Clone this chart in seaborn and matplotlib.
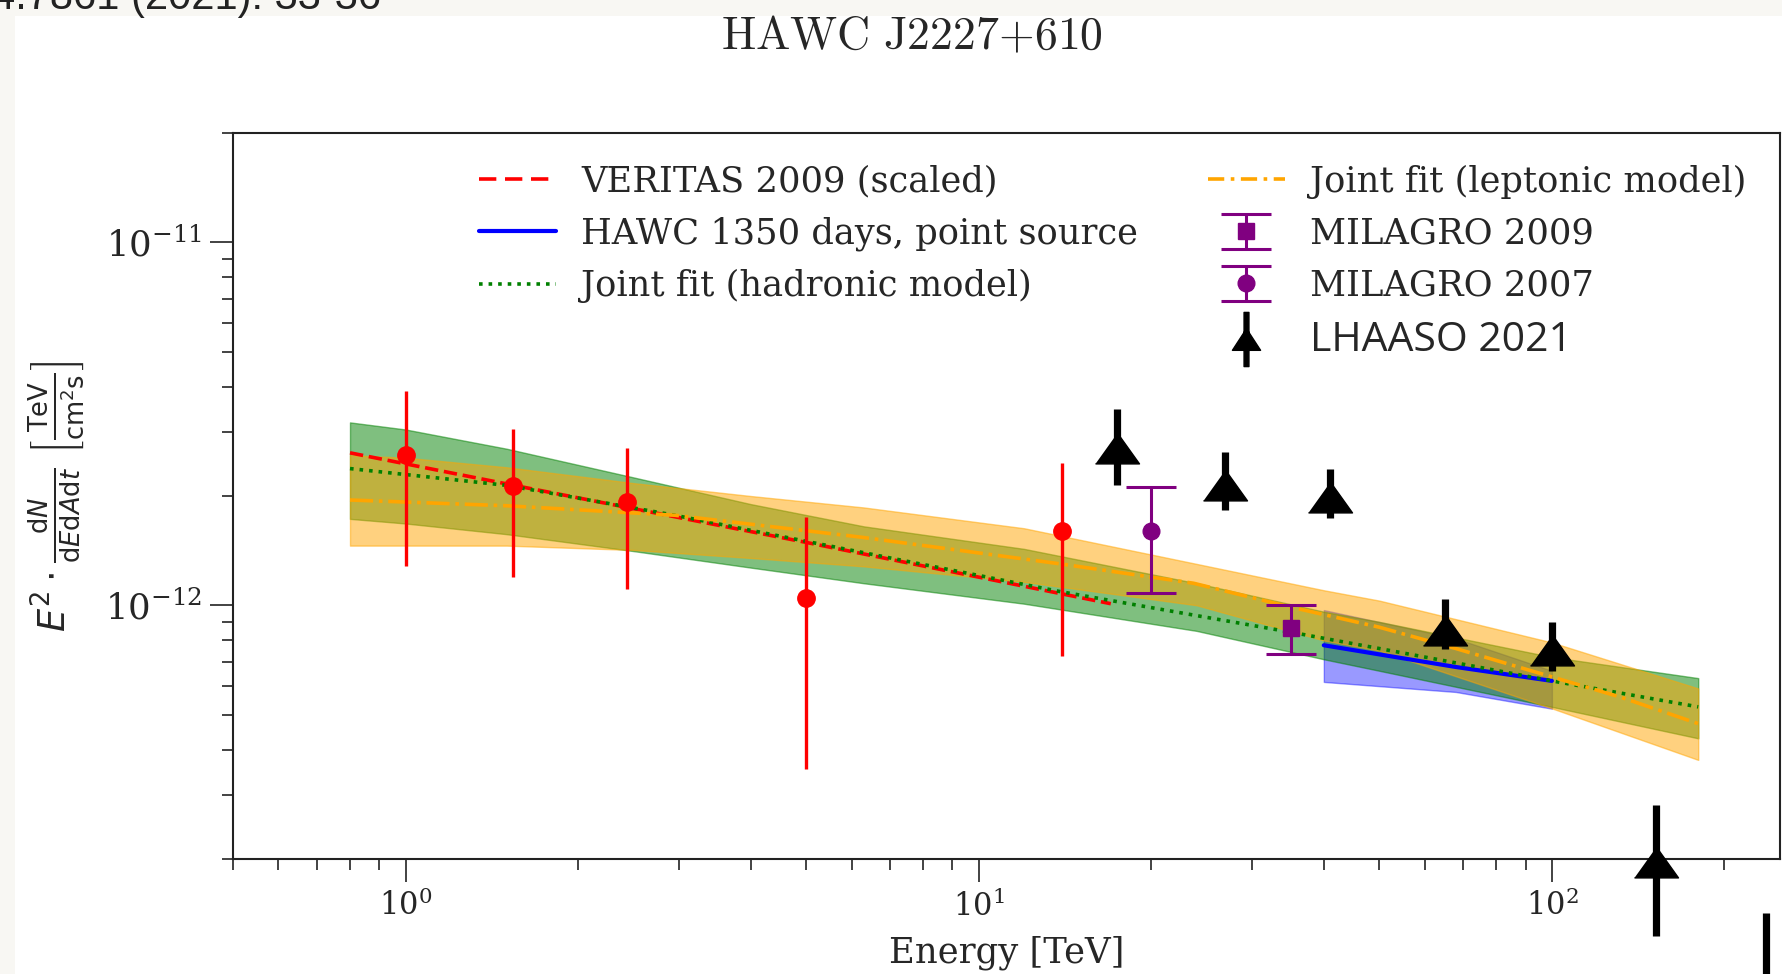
import numpy as np
import matplotlib
matplotlib.use("Agg")
import matplotlib.pyplot as plt
import seaborn as sns
from matplotlib.path import Path
from matplotlib.patches import Rectangle
from matplotlib.lines import Line2D
from matplotlib.legend_handler import HandlerErrorbar

# ---------------- data ----------------
veritas_E = [1.0, 1.54, 2.43, 5.0, 14.0]
veritas_F = [2.60e-12, 2.13e-12, 1.93e-12, 1.05e-12, 1.60e-12]
veritas_hi = [3.89e-12, 3.05e-12, 2.72e-12, 1.75e-12, 2.47e-12]
veritas_lo = [1.28e-12, 1.20e-12, 1.11e-12, 3.54e-13, 7.24e-13]

milagro07_E = [20.0]
milagro07_F = [1.60e-12]
milagro07_hi = [2.12e-12]
milagro07_lo = [1.08e-12]

milagro09_E = [35.0]
milagro09_F = [8.67e-13]
milagro09_hi = [1.00e-12]
milagro09_lo = [7.36e-13]

lhaaso_E = [17.4, 26.9, 41.0, 65.0, 100.0, 152.0, 236.0]
lhaaso_F = [2.72e-12, 2.15e-12, 1.99e-12, 8.57e-13, 7.52e-13, 1.96e-13, 7.5e-14]
lhaaso_hi = [3.47e-12, 2.65e-12, 2.38e-12, 1.04e-12, 9.0e-13, 2.81e-13, 1.42e-13]
lhaaso_lo = [2.14e-12, 1.83e-12, 1.74e-12, 7.6e-13, 6.6e-13, 1.23e-13, 3.5e-14]

veritas_line_E = [0.8, 1.5, 5.0, 17.0]
veritas_line_F = [2.63e-12, 2.16e-12, 1.49e-12, 1.01e-12]

hawc_E = [40.0, 68.0, 100.0]
hawc_F = [7.76e-13, 6.76e-13, 6.19e-13]
hawc_hi = [9.7e-13, 8.1e-13, 6.6e-13]
hawc_lo = [6.15e-13, 5.77e-13, 5.19e-13]

had_E = [0.8, 1.5, 2.95, 6.24, 13.9, 34.9, 50.0, 100.0, 180.0]
had_F = [2.38e-12, 2.14e-12, 1.77e-12, 1.40e-12, 1.09e-12, 8.44e-13, 7.6e-13, 6.19e-13, 5.25e-13]

lep_E = [0.8, 1.5, 2.95, 6.24, 13.9, 23.7, 34.9, 50.0, 68.0, 100.0, 132.0, 180.0]
lep_F = [1.95e-12, 1.88e-12, 1.77e-12, 1.54e-12, 1.30e-12, 1.15e-12, 9.9e-13, 8.7e-13,
         7.6e-13, 6.35e-13, 5.58e-13, 4.72e-13]

band_E = [0.8, 1.0, 1.5, 2.5, 4.0, 6.3, 12.0, 24.0, 40.0, 50.0, 100.0, 180.0]
had_band_hi = [3.19e-12, 3.05e-12, 2.70e-12, 2.25e-12, 1.90e-12, 1.65e-12, 1.43e-12,
               1.15e-12, 9.6e-13, 9.0e-13, 7.2e-13, 6.3e-13]
had_band_lo = [1.73e-12, 1.68e-12, 1.57e-12, 1.41e-12, 1.27e-12, 1.15e-12, 1.01e-12,
               8.5e-13, 7.1e-13, 6.6e-13, 5.25e-13, 4.3e-13]
lep_band_hi = [2.59e-12, 2.55e-12, 2.40e-12, 2.17e-12, 2.00e-12, 1.86e-12, 1.63e-12,
               1.30e-12, 1.10e-12, 1.03e-12, 7.9e-13, 5.9e-13]
lep_band_lo = [1.46e-12, 1.46e-12, 1.46e-12, 1.42e-12, 1.35e-12, 1.28e-12, 1.16e-12,
               1.00e-12, 8.0e-13, 7.5e-13, 5.2e-13, 3.75e-13]

labels_left = ["VERITAS 2009 (scaled)", "HAWC 1350 days, point source",
               "Joint fit (hadronic model)"]
labels_right = ["Joint fit (leptonic model)", "MILAGRO 2009", "MILAGRO 2007",
                "LHAASO 2021"]
title = r"$\mathrm{HAWC\ J2227{+}610}$"
citation = "4.7861 (2021): 33-36"

# ---------------- style ----------------
sns.set_theme(style="ticks")
plt.rcParams["font.family"] = ["DejaVu Serif"]
plt.rcParams["mathtext.fontset"] = "dejavuserif"

W, H, DPI = 1783, 974, 100
fig = plt.figure(figsize=(W / DPI, H / DPI), dpi=DPI)
fig.patch.set_facecolor("#f8f7f3")
fig.add_artist(Rectangle((15 / W, 0), 1, 1 - 16 / H, transform=fig.transFigure,
                         facecolor="white", edgecolor="none", zorder=-10))

ax = fig.add_axes([233 / W, 1 - 859 / H, (1780 - 233) / W, (859 - 133) / H])
ax.set_facecolor("white")
ax.set_xscale("log")
ax.set_yscale("log")

def err(v, lo, hi):
    v, lo, hi = map(np.asarray, (v, lo, hi))
    return np.vstack([v - lo, hi - v])

# bands
ax.fill_between(hawc_E, hawc_lo, hawc_hi, color="blue", alpha=0.4, zorder=1, lw=1)
ax.fill_between(band_E, had_band_lo, had_band_hi, color="green", alpha=0.5, zorder=1.1, lw=1)
ax.fill_between(band_E, lep_band_lo, lep_band_hi, color="orange", alpha=0.5, zorder=1.2, lw=1)

# model lines
sns.lineplot(x=veritas_line_E, y=veritas_line_F, ax=ax, color="red", lw=2.6,
             linestyle="--", dashes=(4.8, 2.4), zorder=3, sort=False)
sns.lineplot(x=hawc_E, y=hawc_F, ax=ax, color="blue", lw=3.0, zorder=3, sort=False)
sns.lineplot(x=had_E, y=had_F, ax=ax, color="green", lw=2.6, linestyle=":", zorder=3, sort=False)
sns.lineplot(x=lep_E, y=lep_F, ax=ax, color="orange", lw=2.6, linestyle="-.",
             dashes=(4.5, 1.8, 1, 1.8), zorder=3, sort=False)

# data points
ax.errorbar(veritas_E, veritas_F, yerr=err(veritas_F, veritas_lo, veritas_hi), fmt="o",
            color="red", ms=12.5, elinewidth=2.4, capsize=0, zorder=4)
mil09 = ax.errorbar(milagro09_E, milagro09_F, yerr=err(milagro09_F, milagro09_lo, milagro09_hi),
                    fmt="s", color="purple", ms=12, elinewidth=2.2, capsize=18, capthick=2.2, zorder=4)
mil07 = ax.errorbar(milagro07_E, milagro07_F, yerr=err(milagro07_F, milagro07_lo, milagro07_hi),
                    fmt="o", color="purple", ms=12, elinewidth=2.2, capsize=18, capthick=2.2, zorder=4)
tri = [(-1, -0.7), (1, -0.7), (0, 0.7)]
lh = ax.errorbar(lhaaso_E, lhaaso_F, yerr=err(lhaaso_F, lhaaso_lo, lhaaso_hi), fmt="none",
                 ecolor="black", elinewidth=5.2, capsize=0, zorder=5)
for a in lh.get_children():
    a.set_clip_on(False)
ax.plot(lhaaso_E, lhaaso_F, linestyle="none", marker=tri, ms=31.7, color="black",
        zorder=5.5, clip_on=False)

ax.set_xlim(0.5, 250)
ax.set_ylim(2e-13, 2e-11)

for s in ["top", "right", "left", "bottom"]:
    ax.spines[s].set_linewidth(1.5)
    ax.spines[s].set_color("#222222")
ax.tick_params(axis="both", which="major", length=16.5, width=1.2,
               color="#222222", pad=6)
ax.tick_params(axis="x", which="major", labelsize=22)
ax.tick_params(axis="y", which="major", labelsize=25.5)
ax.tick_params(axis="both", which="minor", length=8, width=1.2, color="#222222")
ax.tick_params(top=False, right=False, which="both")

ax.set_xlabel("Energy [TeV]", fontsize=25.5, labelpad=9)
ax.set_ylabel(r"$E^2 \cdot \frac{\mathrm{d}N}{\mathrm{d}E\mathrm{d}A\mathrm{d}t}\ "
              r"\left[\frac{\mathrm{TeV}}{\mathrm{cm}^2\mathrm{s}}\right]$",
              fontsize=26.5, math_fontfamily="dejavusans")
ax.yaxis.set_label_coords(-(233 - 86) / 1547, 0.5)

fig.text(912 / W, 1 - 37 / H, title, math_fontfamily="cm", fontsize=33,
         ha="center", va="center")
fig.text(-8 / W, 1 - 9 / H, citation, family=["Liberation Sans"], fontsize=30,
         ha="left", va="baseline", color="#222222")

# legends
LFS = 25.4
hl = [Line2D([], [], color="red", lw=2.6, linestyle="--", dashes=(4.8, 2.4)),
      Line2D([], [], color="blue", lw=3.0),
      Line2D([], [], color="green", lw=2.6, linestyle=":")]
leg1 = fig.legend(hl, labels_left, loc="upper left", bbox_to_anchor=(461 / W, 1 - 147 / H),
                  frameon=False, fontsize=LFS, borderpad=0, handlelength=2.2,
                  handletextpad=0.7, labelspacing=0.51)

verts = [(-0.52, -0.40), (0.52, -0.40), (0.0, 0.40), (-0.52, -0.40),
         (-0.09, -1.0), (0.09, -1.0), (0.09, 1.0), (-0.09, 1.0), (-0.09, -1.0)]
codes = [Path.MOVETO, Path.LINETO, Path.LINETO, Path.CLOSEPOLY,
         Path.MOVETO, Path.LINETO, Path.LINETO, Path.LINETO, Path.CLOSEPOLY]
lh_marker = Path(verts, codes)
lh_handle = Line2D([], [], linestyle="none", marker=lh_marker, ms=39, color="black")
hr = [Line2D([], [], color="orange", lw=2.6, linestyle="-.", dashes=(4.5, 1.8, 1, 1.8)),
      mil09, mil07, lh_handle]
leg2 = fig.legend(hr, labels_right, loc="upper left", bbox_to_anchor=(1190 / W, 1 - 147 / H),
                  frameon=False, fontsize=LFS, borderpad=0, handlelength=2.2,
                  handletextpad=0.7, labelspacing=0.51,
                  handler_map={type(mil09): HandlerErrorbar(xerr_size=0.5)})
lt = leg2.get_texts()[3]
lt.set_fontfamily(["Open Sans", "DejaVu Sans"])
lt.set_fontsize(29.5)

fig.savefig("out.png", dpi=DPI, facecolor=fig.get_facecolor())
